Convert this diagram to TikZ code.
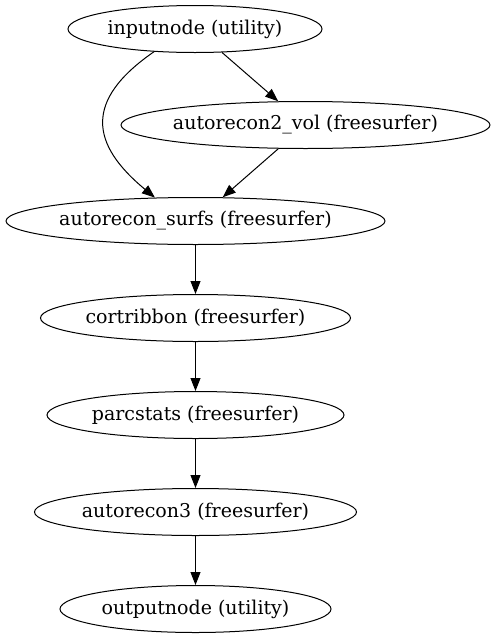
\documentclass[tikz,border=0pt]{standalone}
\usepackage{fontspec}
\setmainfont{DejaVu Serif}
\usetikzlibrary{shapes.geometric,arrows.meta,positioning}

\begin{document}
\begin{tikzpicture}[auto,x=1pt,y=1pt,
                    node distance=49pt,
                    block_node/.style ={ellipse, draw=black, line width=1pt,
                        inner xsep=-30pt, inner ysep=0pt, minimum height=47pt,
                        minimum width=#1, font=\fontsize{19}{23}\selectfont},
                    line/.style ={draw, line width=1pt,
                        -{Triangle[length=13pt,width=10pt]}, shorten >=0pt}]
    % margins of the picture
    \useasboundingbox (0,0) rectangle (496,-635);

    % top part: input and the volume step beside it
    \node [block_node=254pt] (input) at (195,-29) {inputnode (utility)};
    \node [block_node=369pt] (vol) at (305.5,-125) {autorecon2\_vol (freesurfer)};
    \node [block_node=379pt] (surfs) at (195.5,-221) {autorecon\_surfs (freesurfer)};
    % the chain below
    \node [block_node=310pt, below=of surfs] (ribbon) {cortribbon (freesurfer)};
    \node [block_node=297pt, below=of ribbon] (parc) {parcstats (freesurfer)};
    \node [block_node=322pt, below=of parc] (recon3) {autorecon3 (freesurfer)};
    \node [block_node=271pt, below=of recon3] (output) {outputnode (utility)};

    % connecting nodes with paths
    \begin{scope}[every path/.style=line]
        \path (input) -- (vol);
        \path (input.209) .. controls +(-71,-49) and +(-64,53) .. (surfs.150);
        \path (vol) -- (surfs);
        \path (surfs) -- (ribbon);
        \path (ribbon) -- (parc);
        \path (parc) -- (recon3);
        \path (recon3) -- (output);
    \end{scope}
\end{tikzpicture}
\end{document}
